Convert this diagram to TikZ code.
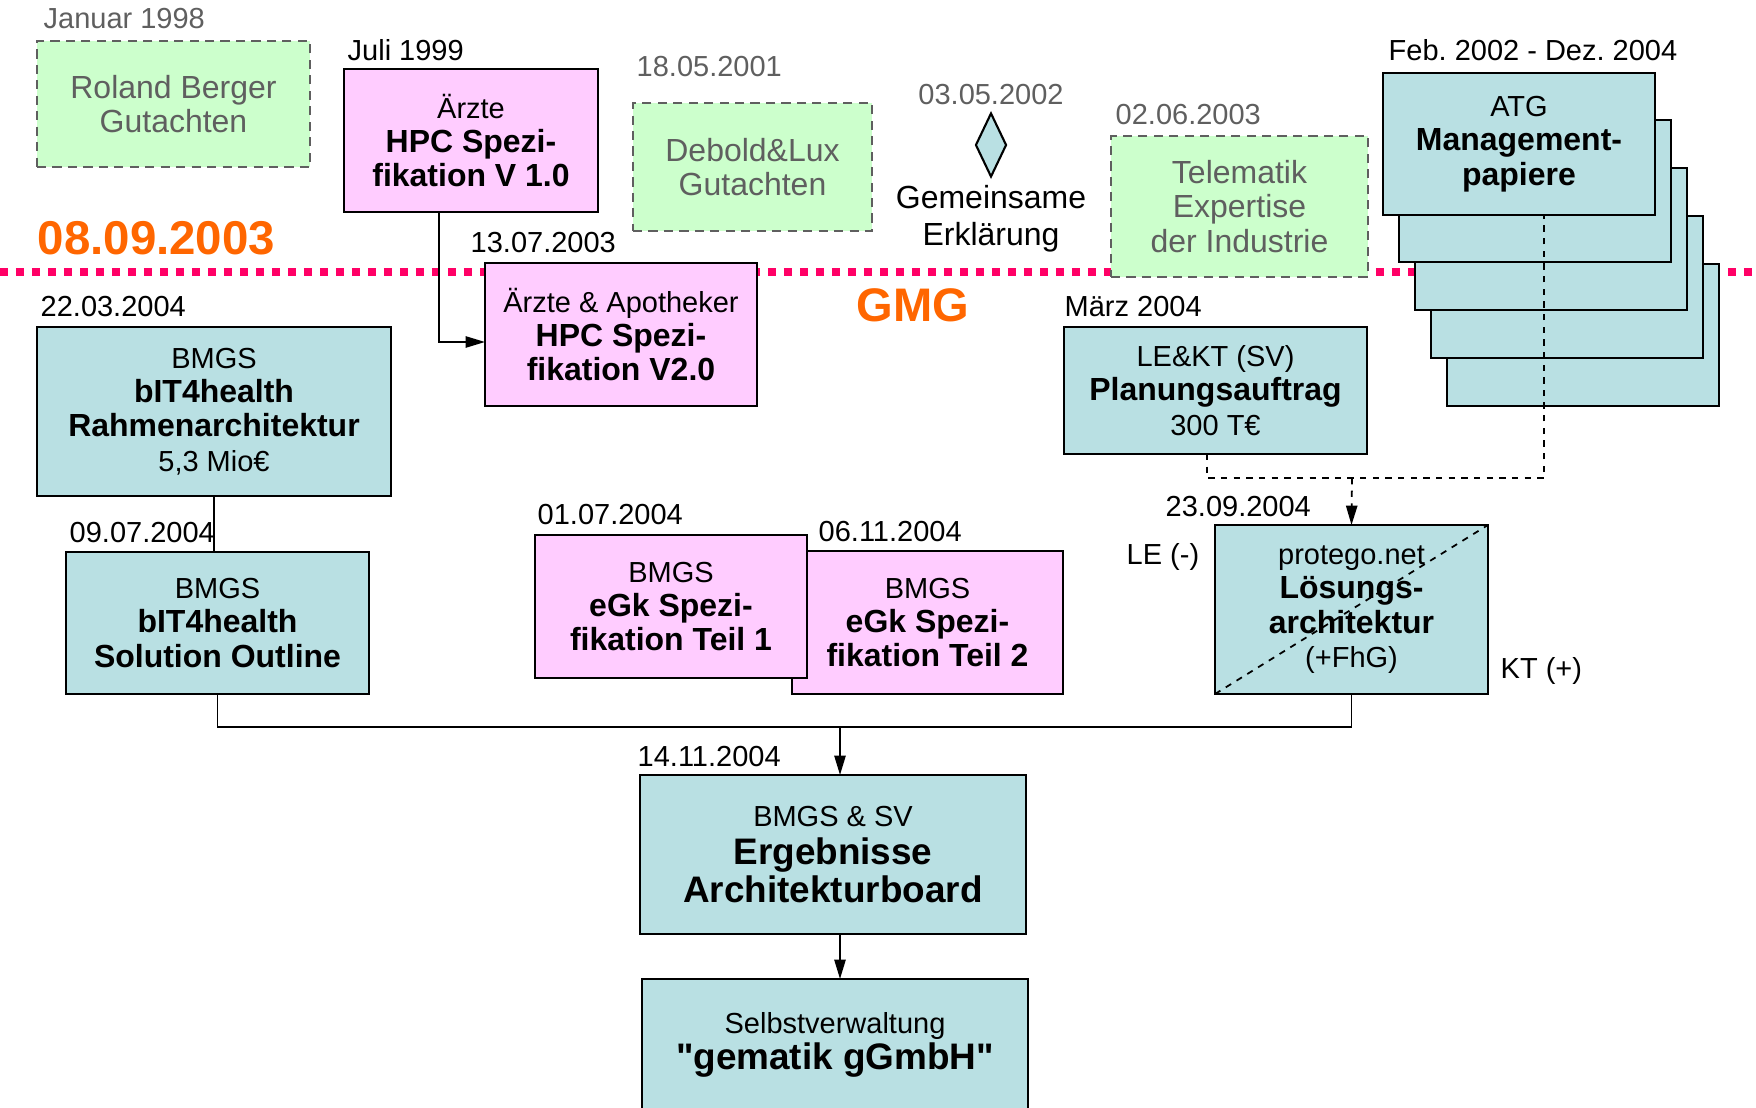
\documentclass[tikz,border=0pt]{standalone}
\usepackage{fontspec}
\setmainfont{Liberation Sans}[Ligatures=TeXOff]
\usetikzlibrary{shapes.geometric,arrows.meta}

\definecolor{gmgpink}{RGB}{255,0,102}
\definecolor{gmgorange}{RGB}{255,102,0}
\definecolor{boxteal}{RGB}{185,224,227}
\definecolor{boxpink}{RGB}{255,204,255}
\definecolor{boxgreen}{RGB}{204,255,204}
\definecolor{textgray}{RGB}{95,95,95}

\newcommand{\nsz}{\fontsize{8.25}{9.8}\selectfont}
\newcommand{\bsz}{\fontsize{9.1}{9.8}\selectfont\bfseries}
\newcommand{\gsz}{\fontsize{10.5}{10.8}\selectfont\bfseries}
\frenchspacing

\begin{document}
\begin{tikzpicture}[x=0.1mm,y=-0.1mm,
    box/.style={draw=black,line width=0.8pt,inner sep=0pt,outer sep=0pt,align=center,font=\nsz},
    tealbox/.style={box,fill=boxteal},
    pinkbox/.style={box,fill=boxpink},
    greenbox/.style={box,draw=textgray,dash pattern=on 2.6pt off 1.8pt,line width=0.6pt,fill=boxgreen,text=textgray,font=\fontsize{9.1}{9.8}\selectfont},
    date/.style={anchor=base west,inner sep=0pt,font=\nsz},
    olddate/.style={date,text=textgray},
    link/.style={line width=0.5pt},
    arr/.style={link,-{Triangle[length=5.5pt,width=3.2pt]}},
    dashlink/.style={link,dash pattern=on 1.8pt off 1.8pt}]
    \useasboundingbox (0,0) rectangle (1756,1108);

    % GMG-Linie
    \coordinate (gmgl) at (0,272);
    \coordinate (gmgr) at (1756,272);
    \draw[gmgpink,line width=0.8mm,dash pattern=on 0.8mm off 0.8mm] (gmgl) -- (gmgr);
    \node[anchor=base west,inner sep=0pt,text=gmgorange,font=\fontsize{13.5}{14}\selectfont\bfseries] (gesetz) at (37,255) {08.09.2003};
    \node[anchor=base west,inner sep=0pt,text=gmgorange,font=\fontsize{13.4}{14}\selectfont\bfseries] (gmg) at (856,322) {GMG};

    % vor dem GMG
    \node[olddate] (d-roland) at (43,29) {Januar 1998};
    \node[greenbox,minimum width=27.3mm,minimum height=12.6mm] (roland) at (173.5,104) {Roland Berger\\Gutachten};

    \node[date] (d-hpc1) at (347,61) {Juli 1999};
    \node[pinkbox,minimum width=25.4mm,minimum height=14.3mm] (hpc1) at (471,140.5) {Ärzte\\{\bsz HPC Spezi-}\\{\bsz fikation V 1.0}};

    \node[olddate] (d-debold) at (636,77) {18.05.2001};
    \node[greenbox,minimum width=23.9mm,minimum height=12.8mm] (debold) at (752.5,167) {Debold\&Lux\\Gutachten};

    \node[olddate,anchor=base] (d-decl) at (991,105) {03.05.2002};
    \node[diamond,draw,fill=boxteal,line width=0.6pt,minimum width=3.1mm,minimum height=6.4mm,inner sep=0pt] (decl) at (991,145) {};
    \node[align=center,inner sep=0pt,font=\fontsize{9.1}{10.5}\selectfont] (decltext) at (991,219) {Gemeinsame\\Erklärung};

    \node[olddate] (d-tele) at (1115,125) {02.06.2003};
    \node[greenbox,minimum width=25.7mm,minimum height=14.1mm] (tele) at (1239.5,206.5) {Telematik\\Expertise\\der Industrie};

    % ATG-Stapel
    \node[date] (d-atg) at (1388,61) {Feb. 2002 - Dez. 2004};
    \foreach \k in {4,3,2,1}
        \node[tealbox,minimum width=27.2mm,minimum height=14.2mm] (atg\k) at (1519+16*\k,143+48*\k) {};
    \node[tealbox,minimum width=27.2mm,minimum height=14.2mm] (atg) at (1519,144) {ATG\\{\bsz Management-}\\{\bsz papiere}};

    % nach dem GMG
    \node[date] (d-hpc2) at (470,253) {13.07.2003};
    \node[pinkbox,minimum width=27.2mm,minimum height=14.3mm] (hpc2) at (621,334.5) {Ärzte \& Apotheker\\{\bsz HPC Spezi-}\\{\bsz fikation V2.0}};

    \node[date] (d-rahmen) at (40,317) {22.03.2004};
    \node[tealbox,minimum width=35.4mm,minimum height=16.9mm] (rahmen) at (214,411.5) {BMGS\\{\bsz bIT4health}\\{\bsz Rahmenarchitektur}\\5,3 Mio€};

    \node[date] (d-lekt) at (1064,317) {März 2004};
    \node[tealbox,minimum width=30.3mm,minimum height=12.7mm] (lekt) at (1215.5,390.5) {LE\&KT (SV)\\{\bsz Planungsauftrag}\\300 T€};

    \node[date] (d-sol) at (69,543) {09.07.2004};
    \node[tealbox,minimum width=30.3mm,minimum height=14.2mm] (sol) at (217.5,623) {BMGS\\{\bsz bIT4health}\\{\bsz Solution Outline}};

    \node[date] (d-egk2) at (818,542) {06.11.2004};
    \node[pinkbox,minimum width=27.1mm,minimum height=14.3mm] (egk2) at (927.5,622.5) {BMGS\\{\bsz eGk Spezi-}\\{\bsz fikation Teil 2}};
    \node[date] (d-egk1) at (537,525) {01.07.2004};
    \node[pinkbox,minimum width=27.2mm,minimum height=14.3mm] (egk1) at (671,606.5) {BMGS\\{\bsz eGk Spezi-}\\{\bsz fikation Teil 1}};

    \node[date] (d-prot) at (1165,517) {23.09.2004};
    \node[tealbox,minimum width=27.3mm,minimum height=16.9mm] (prot) at (1351.5,609.5) {protego.net\\{\bsz Lösungs-}\\{\bsz architektur}\\(+FhG)};
    \draw[dashlink] (prot.south west) -- (prot.north east);
    \node[date] (le) at (1126,565) {LE (-)};
    \node[date] (kt) at (1500,678) {KT (+)};

    \node[date] (d-erg) at (637,767) {14.11.2004};
    \node[tealbox,minimum width=38.6mm,minimum height=15.9mm,font=\fontsize{8.25}{10.9}\selectfont] (erg) at (833,854.5) {BMGS \& SV\\{\gsz Ergebnisse}\\{\gsz Architekturboard}};
    \node[tealbox,minimum width=38.6mm,inner ysep=3.3mm,anchor=north,font=\fontsize{8.25}{10.4}\selectfont] (gem) at (835,979) {Selbstverwaltung\\{\gsz "gematik gGmbH"}};

    % Verbindungen
    \coordinate (hpcdrop) at (439,212);
    \draw[arr] (hpcdrop) |- ([yshift=-0.75mm]hpc2.west);
    \draw[link] (rahmen.south) -- (rahmen.south |- sol.north);

    \coordinate (bus) at (840,727);
    \draw[link] (sol.south) |- (bus) -- (bus -| prot.south) -- (prot.south);
    \draw[arr] (bus) -- (bus |- erg.north);
    \draw[arr] (bus |- erg.south) -- (bus |- gem.north);

    \coordinate (ktdrop) at (1207,454);
    \coordinate (atgdrop) at (1544,214);
    \coordinate (merge) at (1352,478);
    \draw[dashlink] (ktdrop) -- (ktdrop |- merge) -- (merge -| atgdrop) -- (atgdrop);
    \draw[dashlink,-{Triangle[length=5.5pt,width=3.2pt]}] (merge) -- (prot.north);
\end{tikzpicture}
\end{document}
